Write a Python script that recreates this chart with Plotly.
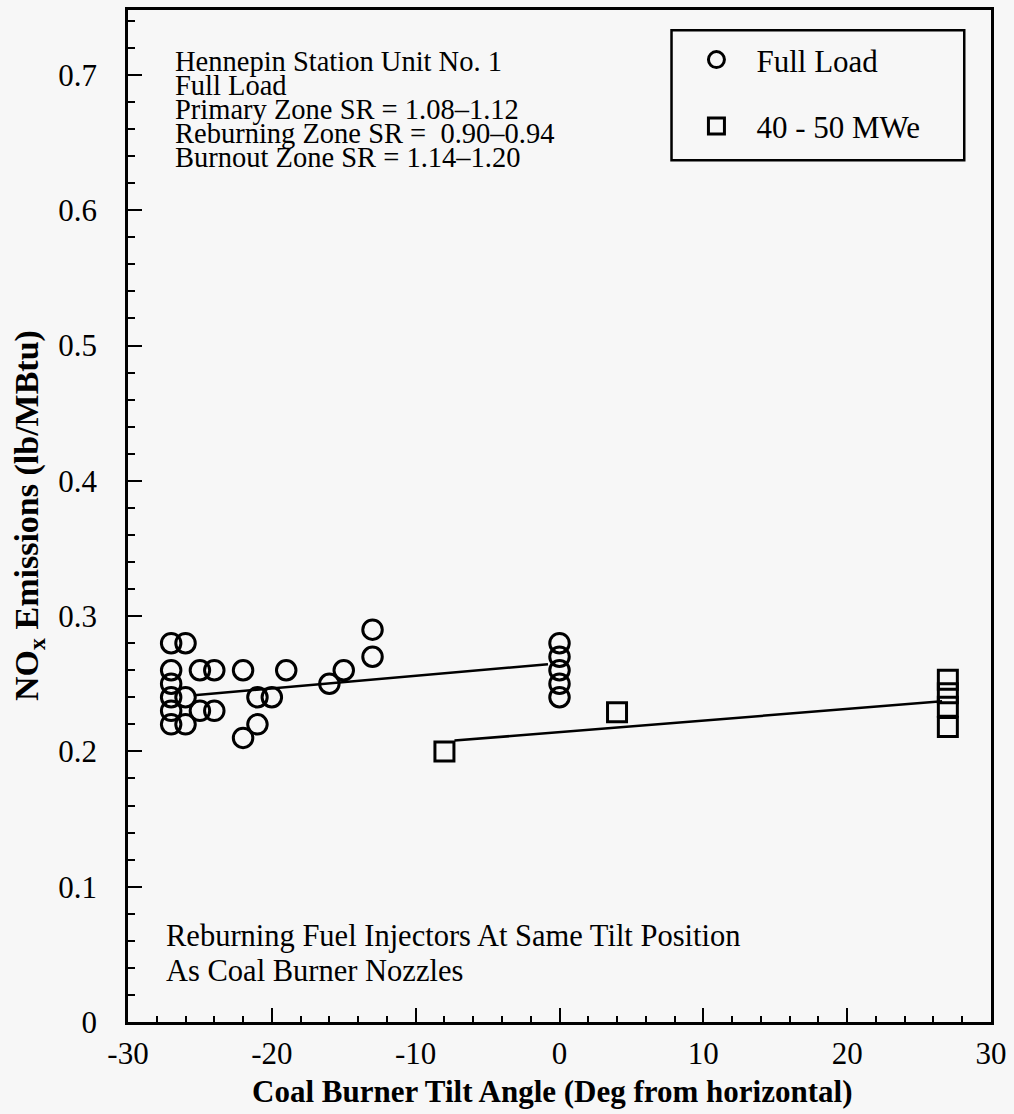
import plotly.graph_objects as go

# ---- data ----
full_x = [-27, -26, -27, -25, -24, -22, -19, -27, -16, -15,
          -27, -26, -21, -20, -27, -25, -24, -27, -26, -21,
          -22, -13, -13, 0, 0, 0, 0, 0]
full_y = [0.28, 0.28, 0.26, 0.26, 0.26, 0.26, 0.26, 0.25, 0.25, 0.26,
          0.24, 0.24, 0.24, 0.24, 0.23, 0.23, 0.23, 0.22, 0.22, 0.22,
          0.21, 0.29, 0.27, 0.28, 0.27, 0.26, 0.25, 0.24]

low_x = [-8, 4, 27, 27, 27, 27]
low_y = [0.20, 0.229, 0.253, 0.243, 0.233, 0.218]

full_fit_x = [-25.4, -0.8]
full_fit_y = [0.2415, 0.2645]
low_fit_x = [-7.3, 26.6]
low_fit_y = [0.208, 0.237]

info_lines = ["Hennepin Station Unit No. 1",
              "Full Load",
              "Primary Zone SR = 1.08\u20131.12",
              "Reburning Zone SR = \u00a00.90\u20130.94",
              "Burnout Zone SR = 1.14\u20131.20"]
info_y = [0.7101, 0.6923, 0.6745, 0.6567, 0.6389]
note_lines = ["Reburning Fuel Injectors At Same Tilt Position",
              "As Coal Burner Nozzles"]
note_y = [0.0635, 0.038]

x_ticks = [-30, -20, -10, 0, 10, 20, 30]
x_tick_text = ["-30", "-20", "-10", "0", "10", "20", "30"]
y_ticks = [0, 0.1, 0.2, 0.3, 0.4, 0.5, 0.6, 0.7]
y_tick_text = ["0", "0.1", "0.2", "0.3", "0.4", "0.5", "0.6", "0.7"]

FONT = "Liberation Serif"
BG = "#f7f7f7"
Y_MAX = 0.748

fig = go.Figure()

fig.add_trace(go.Scatter(x=full_fit_x, y=full_fit_y, mode="lines",
                         line=dict(color="black", width=2.5),
                         showlegend=False, hoverinfo="skip"))
fig.add_trace(go.Scatter(x=low_fit_x, y=low_fit_y, mode="lines",
                         line=dict(color="black", width=2.5),
                         showlegend=False, hoverinfo="skip"))

fig.add_trace(go.Scatter(x=full_x, y=full_y, mode="markers", name="Full Load",
                         legendgroup="a",
                         marker=dict(symbol="circle-open", size=19.5, color="black",
                                     line=dict(color="black", width=3))))
fig.add_trace(go.Scatter(x=low_x, y=low_y, mode="markers", name="40 - 50 MWe",
                         legendgroup="b",
                         marker=dict(symbol="square-open", size=19, color="black",
                                     line=dict(color="black", width=3))))

annotations = []
for t, yv in zip(info_lines, info_y):
    annotations.append(dict(x=-26.9, y=yv, xref="x", yref="y", text=t,
                            showarrow=False, xanchor="left", yanchor="middle",
                            font=dict(family=FONT, size=28.5, color="black")))
for t, yv in zip(note_lines, note_y):
    annotations.append(dict(x=-27.5, y=yv, xref="x", yref="y", text=t,
                            showarrow=False, xanchor="left", yanchor="middle",
                            font=dict(family=FONT, size=30.5, color="black")))

annotations.append(dict(x=0.491, y=-0.0877, xref="paper", yref="paper",
                        text="<b>Coal Burner Tilt Angle (Deg from horizontal)</b>",
                        showarrow=False, xanchor="center", yanchor="bottom",
                        font=dict(family=FONT, size=31, color="black")))
annotations.append(dict(x=-0.1142, y=0.5005, xref="paper", yref="paper",
                        text="<b>NO<sub>x</sub> Emissions (lb/MBtu)</b>",
                        showarrow=False, xanchor="center", yanchor="middle",
                        textangle=-90,
                        font=dict(family=FONT, size=34, color="black")))

fig.update_layout(
    width=1014, height=1114,
    margin=dict(l=128, r=19, t=7, b=92),
    paper_bgcolor=BG, plot_bgcolor=BG,
    font=dict(family=FONT, color="black"),
    annotations=annotations,
    showlegend=True,
    legend=dict(x=0.6355, y=0.9773, xanchor="left", yanchor="top",
                font=dict(family=FONT, size=31, color="black"),
                bgcolor="rgba(0,0,0,0)", borderwidth=0, itemwidth=70,
                tracegroupgap=23),
    shapes=[dict(type="rect", xref="paper", yref="paper",
                 x0=0.6298, x1=0.969, y0=0.637 / Y_MAX, y1=0.733 / Y_MAX,
                 line=dict(color="black", width=2.5))],
)

fig.update_xaxes(range=[-30, 30], tickvals=x_ticks, ticktext=x_tick_text,
                 ticks="inside", ticklen=14,
                 tickwidth=2, tickcolor="black", showline=True, linewidth=2.5,
                 linecolor="black", mirror=True, showgrid=False, zeroline=False,
                 tickfont=dict(family=FONT, size=31, color="black"),
                 ticklabelstandoff=2,
                 minor=dict(ticks="inside", dtick=2, ticklen=6, tickwidth=1.5,
                            tickcolor="black", showgrid=False))
fig.update_yaxes(range=[0, Y_MAX], tickvals=y_ticks, ticktext=y_tick_text,
                 ticks="inside", ticklen=14, tickwidth=2, tickcolor="black",
                 showline=True, linewidth=2.5, linecolor="black", mirror=True,
                 showgrid=False, zeroline=False,
                 tickfont=dict(family=FONT, size=31, color="black"),
                 ticklabelstandoff=22,
                 minor=dict(ticks="inside", dtick=0.02, ticklen=7, tickwidth=1.5,
                            tickcolor="black", showgrid=False))

fig.write_html("out.html",
               config={"displayModeBar": False},
               post_script="document.body.style.margin='0';"
                           "document.body.style.overflow='hidden';"
                           "document.documentElement.style.overflow='hidden';")
